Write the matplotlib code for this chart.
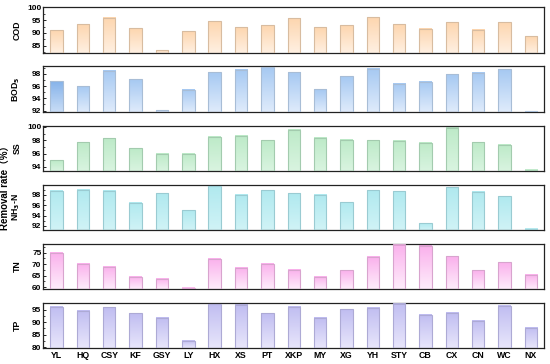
import numpy as np
import matplotlib
matplotlib.use("Agg")
import matplotlib.pyplot as plt
from matplotlib.colors import LinearSegmentedColormap
from matplotlib.ticker import AutoMinorLocator

plt.rcParams['font.family'] = ['Liberation Sans', 'DejaVu Sans']
plt.rcParams['font.weight'] = 'bold'

# --- data ---
sites = ["YL", "HQ", "CSY", "KF", "GSY", "LY", "HX", "XS", "PT", "XKP",
         "MY", "XG", "YH", "STY", "CB", "CX", "CN", "WC", "NX"]

cod = [91.1, 93.4, 96.0, 92.0, 83.3, 90.7, 94.5, 92.2, 93.0, 95.9,
       92.2, 93.0, 96.2, 93.4, 91.7, 94.1, 91.3, 94.1, 88.8]
bod5 = [96.8, 96.0, 98.5, 97.1, 92.1, 95.4, 98.3, 98.65, 99.1, 98.3,
        95.5, 97.6, 98.8, 96.4, 96.7, 97.9, 98.2, 98.7, 91.95]
ss = [95.0, 97.7, 98.3, 96.8, 95.95, 95.95, 98.55, 98.7, 98.0, 99.6,
      98.4, 98.1, 98.0, 97.9, 97.6, 99.9, 97.7, 97.3, 93.6]
nh3n = [98.8, 98.95, 98.8, 96.5, 98.3, 95.0, 99.8, 98.0, 98.9, 98.3,
        98.0, 96.6, 98.9, 98.7, 92.5, 99.5, 98.6, 97.75, 91.5]
tn = [75.0, 70.2, 68.9, 64.6, 63.7, 59.6, 72.2, 68.3, 70.2, 67.4,
      64.6, 67.3, 73.1, 78.9, 78.0, 73.4, 67.3, 70.8, 65.3]
tp = [96.1, 94.5, 95.9, 93.5, 91.8, 82.5, 97.4, 97.0, 93.5, 96.2,
      91.7, 95.1, 95.8, 97.7, 93.0, 93.7, 90.6, 96.5, 87.6]

panel_labels = ["COD", "BOD$_\\mathbf{5}$", "SS", "NH$_\\mathbf{3}$-N", "TN", "TP"]
panel_data = [cod, bod5, ss, nh3n, tn, tp]
panel_ylims = [(82.3, 100), (91.8, 99.2), (93.4, 100.2), (91.2, 100), (59.1, 78.9), (79.6, 97.7)]
panel_ticks = [[85, 90, 95, 100], [92, 94, 96, 98], [94, 96, 98, 100],
               [92, 94, 96, 98], [60, 65, 70, 75], [80, 85, 90, 95]]

# (top colour, bottom colour, edge colour)
panel_colors = [
    ("#FDD6AF", "#FFF0E2", "#D8BCA0"),
    ("#A6C9F2", "#DFEBFB", "#A8BDD6"),
    ("#BDEAC8", "#D9F4E0", "#A3CBAE"),
    ("#B0E9EF", "#D0F3F6", "#9ACBD2"),
    ("#FAB0EC", "#FEEDFB", "#D8A4CE"),
    ("#C0BDF1", "#E8E6FB", "#ADAAD5"),
]

fig, axes = plt.subplots(6, 1, figsize=(5.5, 3.64), dpi=100)
fig.subplots_adjust(left=0.079, right=0.989, top=0.98, bottom=0.043, hspace=0.3)

x = np.arange(len(sites))
width = 0.47
grad = np.linspace(0, 1, 64).reshape(-1, 1)

for i, ax in enumerate(axes):
    vals = panel_data[i]
    ylo, yhi = panel_ylims[i]
    top_c, bot_c, edge_c = panel_colors[i]
    cmap = LinearSegmentedColormap.from_list("g%d" % i, [bot_c, top_c])
    for j, v in enumerate(vals):
        vtop = min(v, yhi)
        cm = cmap
        if i == 1 and j == 0:
            cm = LinearSegmentedColormap.from_list("yl", ["#C9DDF6", "#86B3EA"])
        ax.imshow(grad, extent=[x[j] - width / 2, x[j] + width / 2, ylo, vtop],
                  origin="lower", aspect="auto", cmap=cm, zorder=2)
    ax.bar(x, np.minimum(vals, yhi) - ylo, bottom=ylo, width=width,
           facecolor="none", edgecolor=edge_c, linewidth=0.8, zorder=3)
    ax.set_xlim(-0.5, len(sites) - 0.5)
    ax.set_ylim(ylo, yhi)
    ax.set_yticks(panel_ticks[i])
    ax.yaxis.set_minor_locator(AutoMinorLocator(2))
    ax.tick_params(axis="y", which="major", direction="in", length=2.5, width=0.6,
                   labelsize=6, pad=1.5)
    ax.tick_params(axis="y", which="minor", direction="in", length=1.5, width=0.5)
    ax.set_xticks(x)
    if i == len(axes) - 1:
        ax.set_xticklabels(sites, fontsize=6.3, fontweight="bold")
        ax.tick_params(axis="x", direction="in", length=2.5, width=0.6, pad=2)
    else:
        ax.set_xticklabels([])
        ax.tick_params(axis="x", length=0)
    for sp in ax.spines.values():
        sp.set_linewidth(0.9)
        sp.set_color("#222222")
    ax.set_ylabel(panel_labels[i], fontsize=6.3, fontweight="bold", labelpad=2)
    ax.yaxis.set_label_coords(-0.043, 0.5)

fig.text(0.009, 0.49, "Removal rate（%）", rotation=90, fontsize=7, fontweight="bold",
         ha="center", va="center",
         family=["Liberation Sans", "Noto Sans CJK SC", "DejaVu Sans"])

fig.savefig("out.png", dpi=100)
